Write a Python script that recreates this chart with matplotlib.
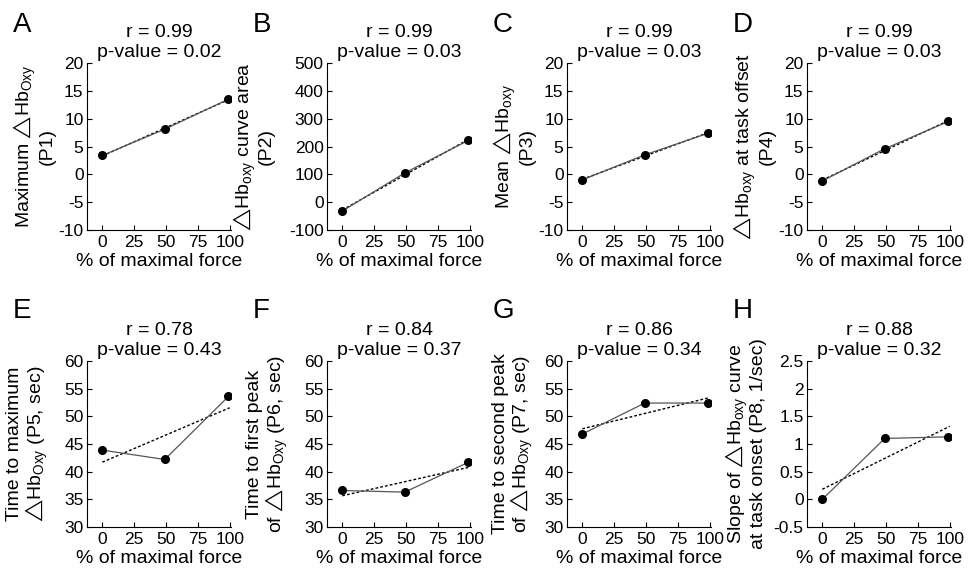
import numpy as np
import matplotlib
matplotlib.use("Agg")
import matplotlib.pyplot as plt

plt.rcParams["font.family"] = ["Liberation Sans", "DejaVu Sans"]
plt.rcParams["mathtext.fontset"] = "custom"
plt.rcParams["mathtext.rm"] = "Liberation Sans"
plt.rcParams["mathtext.it"] = "Liberation Sans:italic"
plt.rcParams["mathtext.fallback"] = "stixsans"
plt.rcParams["font.size"] = 14

# x positions (% of maximal force)
force = [0, 49, 99]

p1 = [3.4, 8.1, 13.5]
p2 = [-32, 105, 222]
p3 = [-1.0, 3.5, 7.4]
p4 = [-1.2, 4.6, 9.5]
p5 = [43.9, 42.2, 53.6]
p6 = [36.6, 36.3, 41.7]
p7 = [46.8, 52.4, 52.4]
p8 = [0.0, 1.10, 1.13]

letters = ["A", "B", "C", "D", "E", "F", "G", "H"]
r_vals = ["0.99", "0.99", "0.99", "0.99", "0.78", "0.84", "0.86", "0.88"]
p_vals = ["0.02", "0.03", "0.03", "0.03", "0.43", "0.37", "0.34", "0.32"]

HB_OXY = "$\u25b3$Hb$_{\\mathrm{Oxy}}$"
HB_oxy = "$\u25b3$Hb$_{\\mathrm{oxy}}$"
ylabels = [
    f"Maximum {HB_OXY}\n(P1)",
    f"{HB_oxy} curve area\n(P2)",
    f"Mean {HB_oxy}\n(P3)",
    f"{HB_oxy} at task offset\n(P4)",
    f"Time to maximum\n{HB_OXY} (P5, sec)",
    f"Time to first peak\nof {HB_OXY} (P6, sec)",
    f"Time to second peak\nof {HB_OXY} (P7, sec)",
    f"Slope of {HB_oxy} curve\nat task onset (P8, 1/sec)",
]
ylims = [(-10, 20), (-100, 500), (-10, 20), (-10, 20),
         (30, 60), (30, 60), (30, 60), (-0.5, 2.5)]
yticks = [np.arange(-10, 21, 5), np.arange(-100, 501, 100),
          np.arange(-10, 21, 5), np.arange(-10, 21, 5),
          np.arange(30, 61, 5), np.arange(30, 61, 5),
          np.arange(30, 61, 5), np.arange(-0.5, 2.51, 0.5)]
# right edge of the y label block, in axes fraction
label_x = [-0.22, -0.36, -0.22, -0.22, -0.26, -0.26, -0.22, -0.28]
series = [p1, p2, p3, p4, p5, p6, p7, p8]


def _fmt(v):
    return f"{v:g}"


fig = plt.figure(figsize=(9.68, 5.75), dpi=100)

W, H = 968, 575
for i, ys in enumerate(series):
    row, col = divmod(i, 4)
    left = 87 + 240 * col
    top = 63 if row == 0 else 361
    bottom = 230 if row == 0 else 527
    ax = fig.add_axes([left / W, 1 - bottom / H, 144 / W, (bottom - top) / H])

    slope, icpt = np.polyfit(force, ys, 1)
    fx = np.array([0, 100])
    ax.plot(fx, slope * fx + icpt, color="black", lw=1.0, ls=(0, (2, 1.5)))
    ax.plot(force, ys, color="#555555", lw=0.9, marker="o", ms=5.5,
            mfc="black", mec="black")

    ax.set_xlim(-12, 101)
    ax.set_ylim(*ylims[i])
    ax.set_xticks([0, 25, 50, 75, 100])
    ax.set_yticks(yticks[i])
    ax.set_yticklabels([_fmt(v) for v in yticks[i]])
    ax.tick_params(direction="in", length=3.5, width=0.8, labelsize=12.5)
    ax.tick_params(axis="x", pad=3.5)
    ax.tick_params(axis="y", pad=2.5)
    for s in ("top", "right"):
        ax.spines[s].set_visible(False)
    for s in ("left", "bottom"):
        ax.spines[s].set_linewidth(0.8)

    ax.set_xlabel("% of maximal force", fontsize=14, labelpad=2)
    ax.set_ylabel(ylabels[i], fontsize=14, linespacing=1.0)
    ax.yaxis.set_label_coords(label_x[i], 0.5)
    ax.set_title(f"r = {r_vals[i]}\np-value = {p_vals[i]}", fontsize=14,
                 linespacing=1.25, pad=4)

    fig.text((13 + 240 * col) / W, 1 - (12 if row == 0 else 298) / H,
             letters[i], fontsize=20, va="top", ha="left")

fig.savefig("out.png", dpi=100)
